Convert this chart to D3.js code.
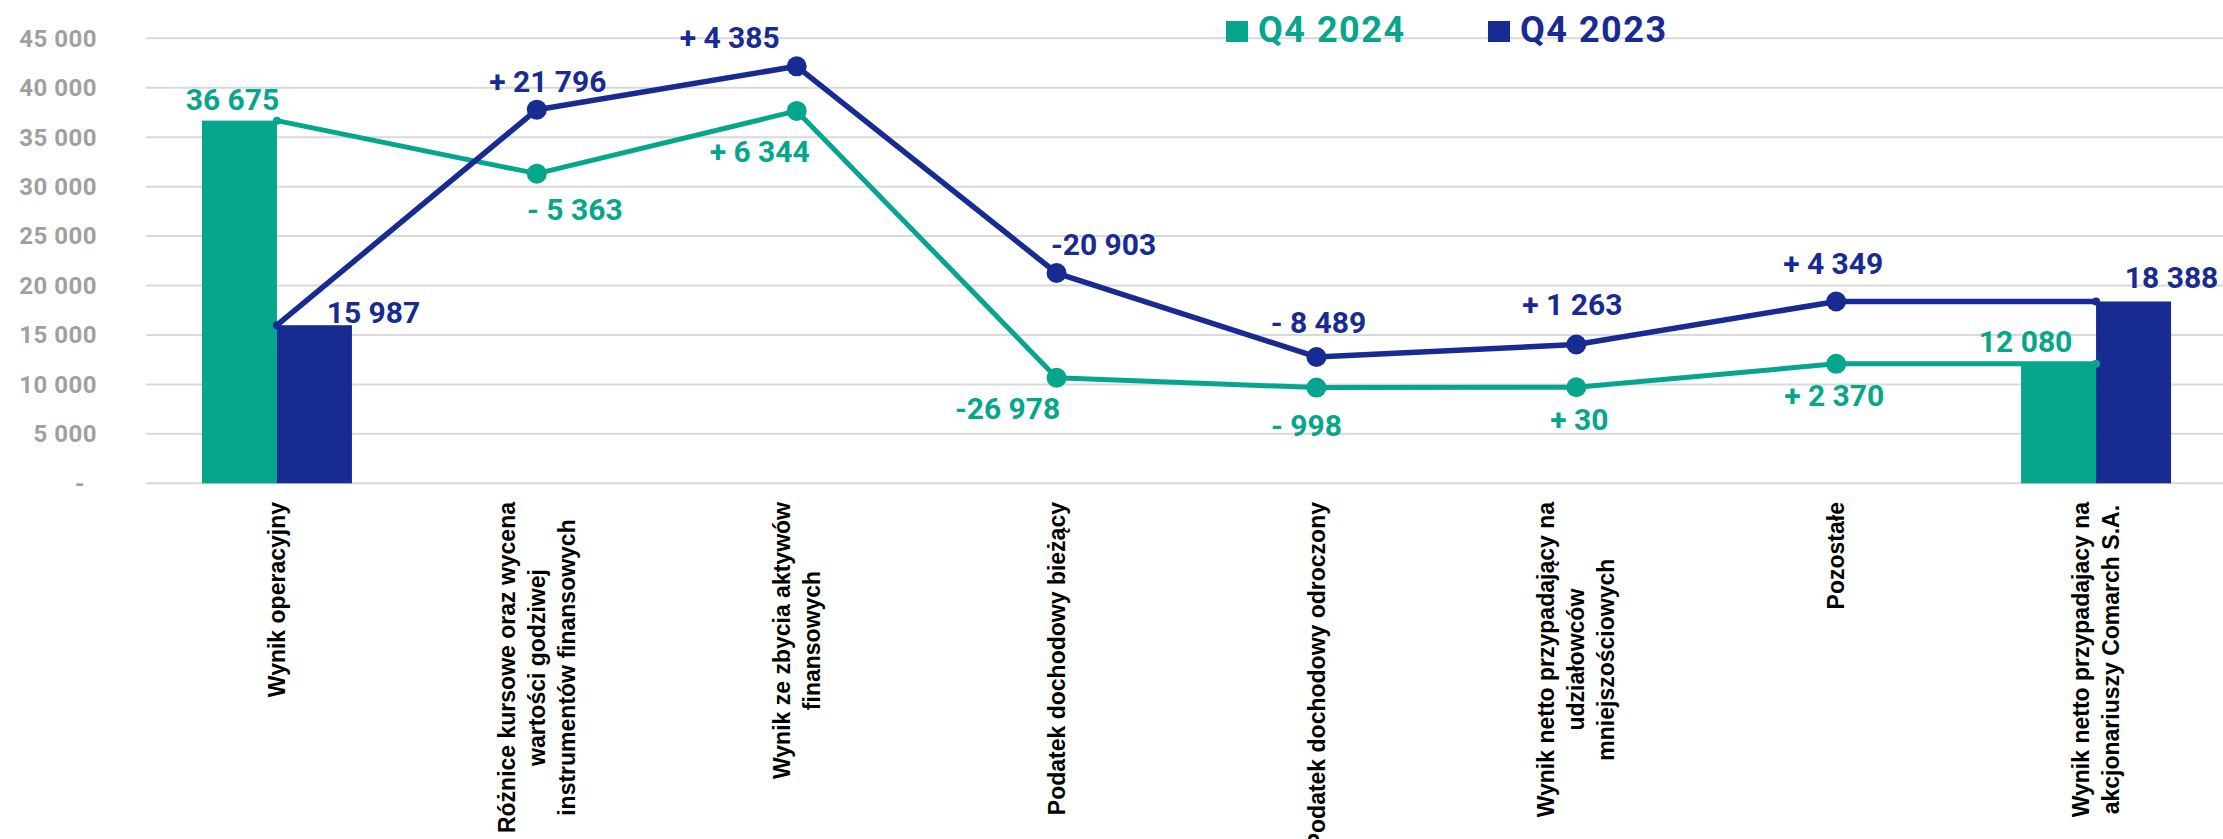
<!DOCTYPE html>
<html lang="pl">
<head>
  <meta charset="UTF-8">
  <title>Wynik netto Q4 2024 vs Q4 2023</title>
  <script src="https://d3js.org/d3.v7.min.js"></script>
  <style>
    body { margin: 0; background: #fff; }
    svg { display: block; }
    .tick-y { font-family: Roboto, sans-serif; font-weight: 700; font-size: 24px; fill: #a0a0a0; letter-spacing: 0.5px; }
    .cat { font-family: "Liberation Sans", Arial, sans-serif; font-weight: 700; font-size: 23px; fill: #000; }
    .val { font-family: Roboto, sans-serif; font-weight: 700; font-size: 30px; }
    .legend { font-family: Roboto, sans-serif; font-weight: 700; font-size: 36px; letter-spacing: 1.5px; }
  </style>
</head>
<body>
  <svg id="chart" width="2223" height="839"></svg>

  <script>
    // category labels, one array per label (lines as in the source)
    const categories = [
      ["Wynik operacyjny"],
      ["Różnice kursowe oraz wycena", "wartości godziwej", "instrumentów finansowych"],
      ["Wynik ze zbycia aktywów", "finansowych"],
      ["Podatek dochodowy bieżący"],
      ["Podatek dochodowy odroczony"],
      ["Wynik netto przypadający na", "udziałowców", "mniejszościowych"],
      ["Pozostałe"],
      ["Wynik netto przypadajacy na", "akcjonariuszy Comarch S.A."]
    ];
    const seriesNames = ["Q4 2024", "Q4 2023"];
    // first and last value are totals (bars), the rest are changes
    const values2024 = [36675, -5363, 6344, -26978, -998, 30, 2370, 12080];
    const values2023 = [15987, 21796, 4385, -20903, -8489, 1263, 4349, 18388];
    const yTicks = [0, 5000, 10000, 15000, 20000, 25000, 30000, 35000, 40000, 45000];

    // hand placed label offsets from the point (dx, dy)
    const labelShift2024 = [[-7, -11], [38, 46], [-37, 51], [-49, 41], [-10, 48], [3, 43], [-2, 42], [-33, -12]];
    const labelShift2023 = [[59, -2], [11, -18], [-67, -18], [47, -18], [2, -24], [-4, -29], [-3, -27], [38, -13]];

    const green = "#05a68b", blue = "#172b93";

    const svg = d3.select("#chart");
    const W = 2223;

    const x = d3.scaleBand().domain(d3.range(categories.length)).range([147, 2226]).padding(0);
    const xs = d3.scaleBand().domain(seriesNames).range([-75, 75]);
    const y = d3.scaleLinear().domain([0, 45000]).range([483.3, 38.3]);

    const loc = d3.formatLocale({ thousands: " ", grouping: [3], decimal: ",", currency: ["", ""] });
    const fmt = loc.format(",d");
    const fmtDelta = v => {
      if (v >= 0) return "+ " + fmt(v);
      return Math.abs(v) >= 10000 ? "-" + fmt(-v) : "- " + fmt(-v);
    };

    // gridlines
    svg.append("g").selectAll("line").data(yTicks).join("line")
      .attr("x1", 146).attr("x2", W)
      .attr("y1", d => y(d)).attr("y2", d => y(d))
      .attr("stroke", "#d9d9d9").attr("stroke-width", 2);

    // y tick labels
    svg.append("g").selectAll("text").data(yTicks).join("text")
      .attr("class", "tick-y")
      .attr("x", d => d === 0 ? 80 : 97)
      .attr("y", d => y(d))
      .attr("dy", "0.35em")
      .attr("text-anchor", d => d === 0 ? "middle" : "end")
      .text(d => d === 0 ? "-" : fmt(d));

    const cx = i => x(i) + x.bandwidth() / 2;

    // running totals
    function running(vals) {
      const out = [];
      let acc = 0;
      vals.forEach((v, i) => {
        if (i === vals.length - 1) acc = v;
        else acc += v;
        out.push(acc);
      });
      return out;
    }
    const run2024 = running(values2024);
    const run2023 = running(values2023);

    const series = [
      { name: seriesNames[0], vals: values2024, run: run2024, color: green, width: 5, shift: labelShift2024 },
      { name: seriesNames[1], vals: values2023, run: run2023, color: blue, width: 5.5, shift: labelShift2023 }
    ];

    // total bars (first and last category)
    const last = categories.length - 1;
    series.forEach(s => {
      svg.append("g").selectAll("rect").data([0, last]).join("rect")
        .attr("x", i => cx(i) + xs(s.name))
        .attr("width", xs.bandwidth())
        .attr("y", i => y(s.run[i]))
        .attr("height", i => y(0) - y(s.run[i]))
        .attr("fill", s.color);
    });

    // bridge lines
    const line = d3.line().x((d, i) => cx(i)).y(d => y(d));
    series.forEach(s => {
      svg.append("path")
        .attr("d", line(s.run))
        .attr("fill", "none")
        .attr("stroke", s.color)
        .attr("stroke-width", s.width)
        .attr("stroke-linejoin", "round");

      svg.append("g").selectAll("circle").data(s.run).join("circle")
        .attr("cx", (d, i) => cx(i))
        .attr("cy", d => y(d))
        .attr("r", (d, i) => (i === 0 || i === last) ? 4 : 10)
        .attr("fill", s.color);
    });

    // value labels
    series.forEach(s => {
      svg.append("g").selectAll("text").data(s.vals).join("text")
        .attr("class", "val")
        .attr("fill", s.color)
        .attr("text-anchor", "middle")
        .attr("x", (d, i) => {
          const base = (i === 0 || i === last) ? cx(i) + xs(s.name) + xs.bandwidth() / 2 : cx(i);
          return base + s.shift[i][0];
        })
        .attr("y", (d, i) => y(s.run[i]) + s.shift[i][1])
        .text((d, i) => (i === 0 || i === last) ? fmt(d) : fmtDelta(d));
    });

    // category labels, rotated, top aligned to the axis, lines centred
    const lineGap = 30, labelTop = 502;
    categories.forEach((lines, i) => {
      const g = svg.append("g");
      const texts = lines.map(t => g.append("text").attr("class", "cat").attr("text-anchor", "middle").text(t));
      const maxLen = d3.max(texts, t => t.node().getComputedTextLength());
      texts.forEach((t, j) => {
        const off = (j - (lines.length - 1) / 2) * lineGap;
        t.attr("dy", "0.35em")
          .attr("transform", `translate(${cx(i) + off},${labelTop + maxLen / 2}) rotate(-90)`);
      });
    });

    // legend
    const legendX = [1226, 1488];
    const lg = svg.append("g");
    series.forEach((s, k) => {
      lg.append("rect")
        .attr("x", legendX[k]).attr("y", 21)
        .attr("width", 22).attr("height", 21)
        .attr("fill", s.color);
      lg.append("text")
        .attr("class", "legend")
        .attr("x", legendX[k] + 32).attr("y", 42)
        .attr("fill", s.color)
        .text(s.name);
    });
  </script>
</body>
</html>
